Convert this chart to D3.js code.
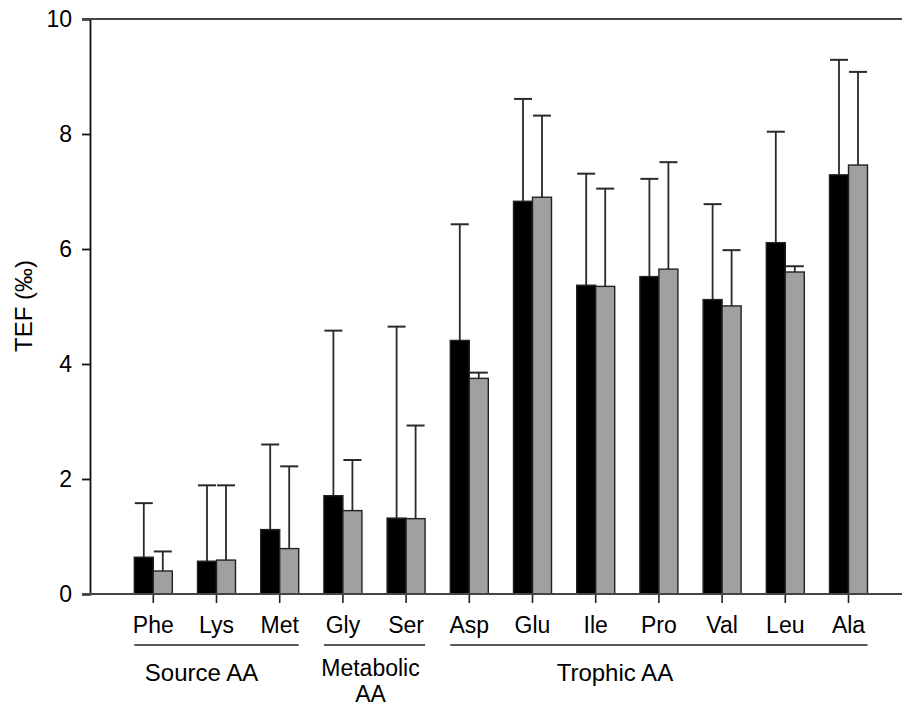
<!DOCTYPE html>
<html>
<head>
<meta charset="utf-8">
<script src="https://cdn.jsdelivr.net/npm/d3@7"></script>
<style>
  body { margin: 0; background: #fff; }
  svg { display: block; font-family: "Liberation Sans", Arial, sans-serif; }
</style>
</head>
<body>
<svg id="chart" width="902" height="709"></svg>
<script>
// amino acids on the x axis
const aminoAcids = ["Phe", "Lys", "Met", "Gly", "Ser", "Asp", "Glu", "Ile", "Pro", "Val", "Leu", "Ala"];

// mean TEF (black and grey bars) and upper error
const blackMeans = [0.64, 0.57, 1.12, 1.71, 1.32, 4.41, 6.83, 5.37, 5.52, 5.12, 6.11, 7.29];
const blackErrors = [0.94, 1.32, 1.48, 2.87, 3.33, 2.02, 1.78, 1.94, 1.70, 1.66, 1.93, 2.00];
const greyMeans = [0.40, 0.59, 0.79, 1.45, 1.31, 3.75, 6.90, 5.35, 5.65, 5.01, 5.60, 7.46];
const greyErrors = [0.34, 1.30, 1.43, 0.88, 1.62, 0.10, 1.42, 1.70, 1.86, 0.97, 0.10, 1.62];

const yTicks = [0, 2, 4, 6, 8, 10];

// groups of amino acids, first and last member
const groupNames = [["Source AA"], ["Metabolic", "AA"], ["Trophic AA"]];
const groupFrom = ["Phe", "Gly", "Asp"];
const groupTo = ["Met", "Ser", "Ala"];
// labels sit a bit left of the bracket centre in the original
const labelShift = [-15, -4, -44];

const margins = { left: 90, top: 19, right: 0, bottom: 115 };
const width = 902 - margins.left - margins.right;
const height = 709 - margins.top - margins.bottom;

const svg = d3.select("#chart");
const g = svg.append("g").attr("transform", `translate(${margins.left},${margins.top})`);

const x = d3.scaleBand().domain(aminoAcids).range([31.7, 31.7 + 12 * 63.2]);
const y = d3.scaleLinear().domain([0, 10]).range([height, 0]);
const barW = 19;
const lineCol = "#2a2a2a";

const series = [
  { means: blackMeans, errors: blackErrors, fill: "#000", offset: -barW },
  { means: greyMeans, errors: greyErrors, fill: "#a0a0a0", offset: 0 },
];

// error bars first, bars drawn over them
series.forEach((s) => {
  const eg = g.append("g").attr("class", "errors");
  aminoAcids.forEach((aa, i) => {
    const cx = x(aa) + x.bandwidth() / 2 + s.offset + barW / 2;
    const top = y(s.means[i] + s.errors[i]);
    eg.append("line")
      .attr("x1", cx).attr("x2", cx)
      .attr("y1", y(s.means[i])).attr("y2", top)
      .attr("stroke", lineCol).attr("stroke-width", 1.8);
    eg.append("line")
      .attr("x1", cx - 9).attr("x2", cx + 9)
      .attr("y1", top).attr("y2", top)
      .attr("stroke", lineCol).attr("stroke-width", 2);
  });
});

series.forEach((s) => {
  g.append("g")
    .selectAll("rect")
    .data(aminoAcids)
    .join("rect")
    .attr("x", (d) => x(d) + x.bandwidth() / 2 + s.offset)
    .attr("y", (d, i) => y(s.means[i]))
    .attr("width", barW)
    .attr("height", (d, i) => y(0) - y(s.means[i]))
    .attr("fill", s.fill)
    .attr("stroke", "#222")
    .attr("stroke-width", 1.4);
});

// y axis
const yAxis = d3.axisLeft(y).tickValues(yTicks).tickSize(8).tickPadding(10);
g.append("g")
  .call(yAxis)
  .call((a) => a.select(".domain").attr("stroke", "#111").attr("stroke-width", 1.8))
  .call((a) => a.selectAll(".tick line").attr("stroke", "#111").attr("stroke-width", 1.8))
  .call((a) => a.selectAll(".tick text").attr("font-size", 23).attr("fill", "#000").attr("font-family", null));

// x axis
const xAxis = d3.axisBottom(x).tickSize(9).tickPadding(13.7).tickSizeOuter(0);
g.append("g")
  .attr("transform", `translate(0,${height})`)
  .call(xAxis)
  .call((a) => a.select(".domain").remove())
  .call((a) => a.selectAll(".tick line").attr("stroke", "#222").attr("stroke-width", 1.6))
  .call((a) => a.selectAll(".tick text").attr("font-size", 23).attr("fill", "#000").attr("font-family", null));

// axis baseline and top frame run off the right edge
g.append("line").attr("x1", -8).attr("x2", width).attr("y1", height).attr("y2", height)
  .attr("stroke", "#444").attr("stroke-width", 1.8);
g.append("line").attr("x1", -8).attr("x2", width).attr("y1", 0).attr("y2", 0)
  .attr("stroke", "#444").attr("stroke-width", 1.8);

// group brackets
groupNames.forEach((name, gi) => {
  const x0 = x(groupFrom[gi]) + x.bandwidth() / 2 - barW;
  const x1 = x(groupTo[gi]) + x.bandwidth() / 2 + barW;
  const cx = (x0 + x1) / 2 + labelShift[gi];
  const twoLines = name.length > 1;
  g.append("line")
    .attr("x1", x0).attr("x2", x1)
    .attr("y1", height + 51).attr("y2", height + 51)
    .attr("stroke", "#222").attr("stroke-width", 1.4);
  const t = g.append("text")
    .attr("x", cx)
    .attr("y", height + (twoLines ? 82 : 87))
    .attr("text-anchor", "middle")
    .attr("font-size", twoLines ? 23 : 24);
  name.forEach((line, i) => {
    t.append("tspan").attr("x", cx).attr("dy", i === 0 ? 0 : 26).text(line);
  });
});

// y label
svg.append("text")
  .attr("transform", "translate(32,306) rotate(-90)")
  .attr("text-anchor", "middle")
  .attr("font-size", 24)
  .text("TEF (‰)");
</script>
</body>
</html>
